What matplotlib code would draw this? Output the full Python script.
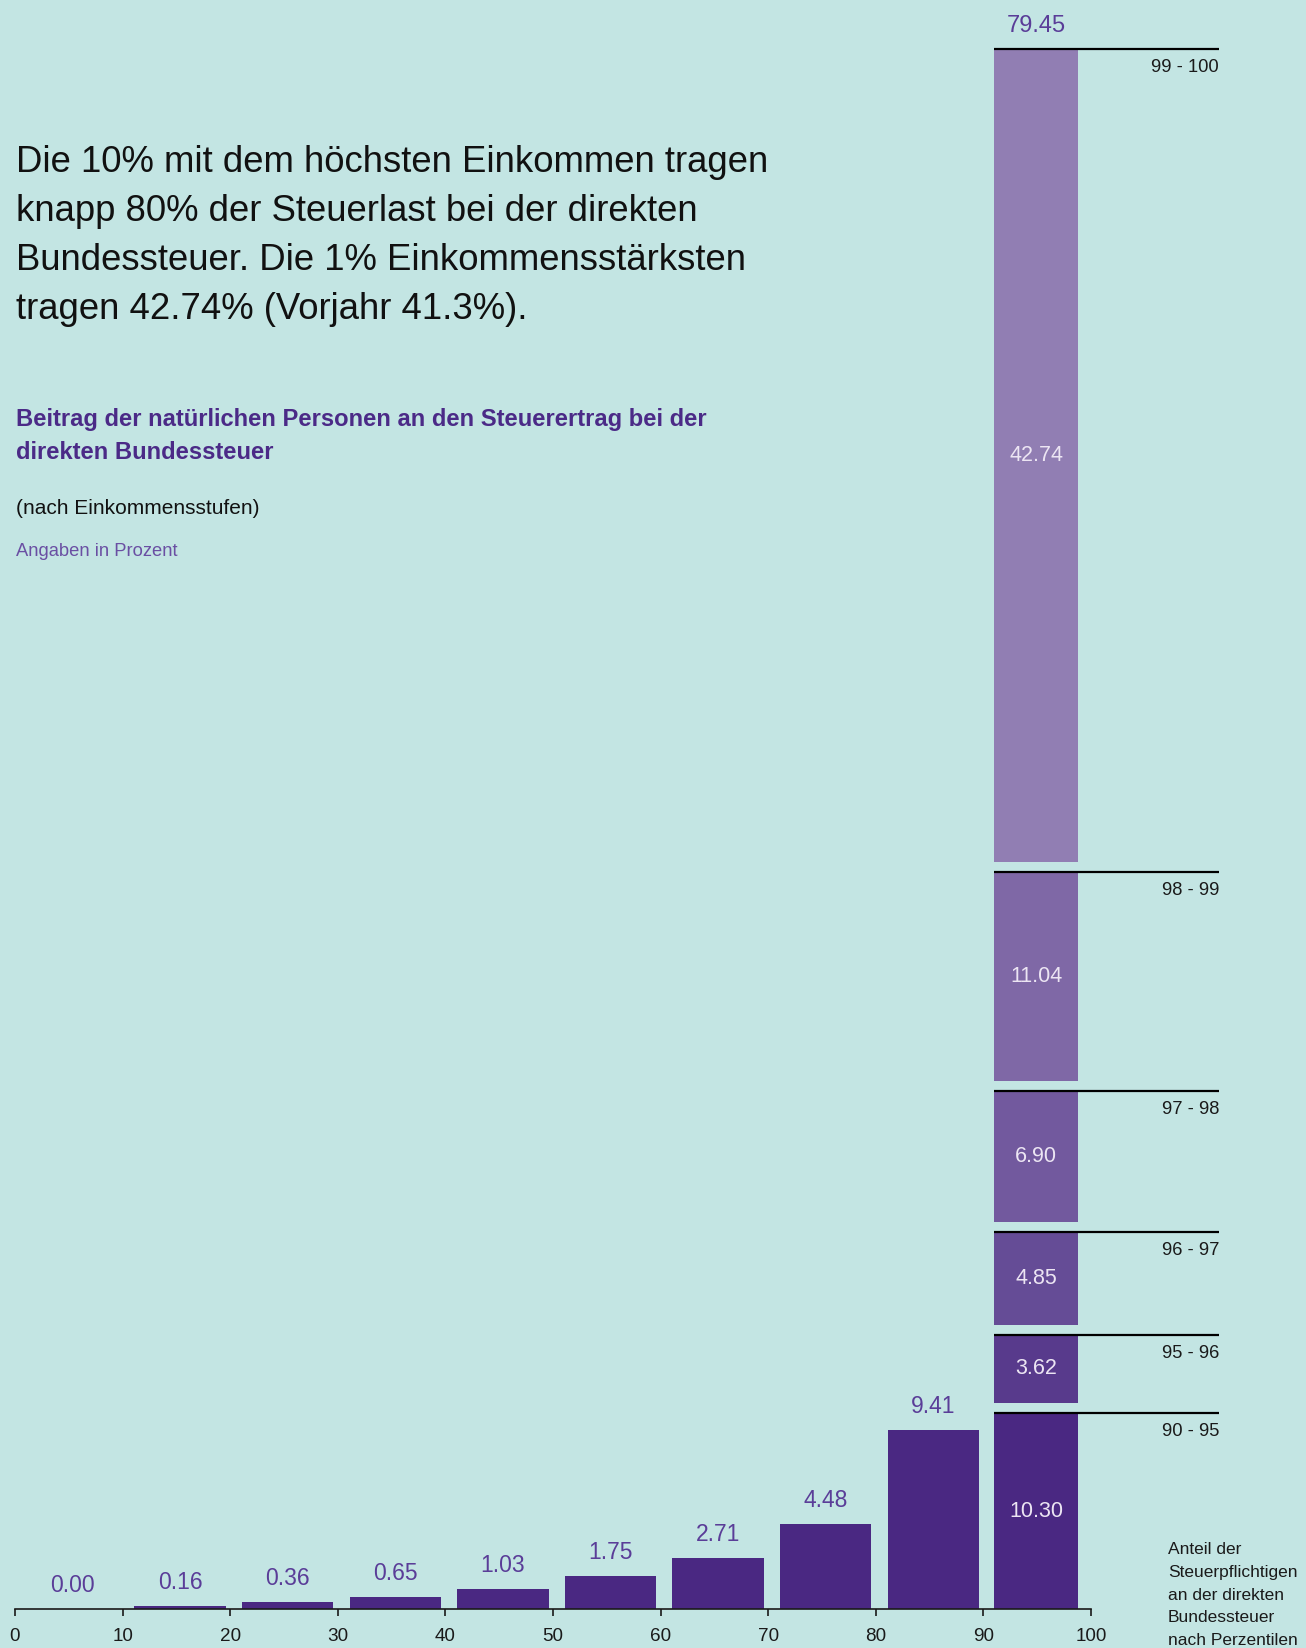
import matplotlib.pyplot as plt
import numpy as np

plt.rcParams['font.family'] = ['Liberation Sans', 'DejaVu Sans']

# Steuerertrag nach Einkommensdezilen (0-90) und Perzentilen (90-100)
decile_starts = [0, 10, 20, 30, 40, 50, 60, 70, 80]
decile_shares = [0.00, 0.16, 0.36, 0.65, 1.03, 1.75, 2.71, 4.48, 9.41]
top_groups = ['90 - 95', '95 - 96', '96 - 97', '97 - 98', '98 - 99', '99 - 100']
top_shares = [10.30, 3.62, 4.85, 6.90, 11.04, 42.74]
xticks = [0, 10, 20, 30, 40, 50, 60, 70, 80, 90, 100]

headline = ['Die 10% mit dem höchsten Einkommen tragen',
            'knapp 80% der Steuerlast bei der direkten',
            'Bundessteuer. Die 1% Einkommensstärksten',
            'tragen 42.74% (Vorjahr 41.3%).']
subtitle = ['Beitrag der natürlichen Personen an den Steuerertrag bei der',
            'direkten Bundessteuer']
axis_note = ['Anteil der', 'Steuerpflichtigen', 'an der direkten',
             'Bundessteuer', 'nach Perzentilen']

bg = '#c3e5e3'
bar_color = '#4a2882'
top_colors = ['#4a2882', '#583a8c', '#654c96', '#72599e', '#7f68a6', '#917eb3']
label_purple = '#5a3d98'

W, H, DPI = 1306, 1648, 100
fig = plt.figure(figsize=(W / DPI, H / DPI), dpi=DPI, facecolor=bg)

def fx(px):
    return px / W

def fy(py):
    return 1 - py / H

x0, x1 = 15, 1091      # pixel positions of 0 and 100
y0 = 1609              # baseline pixel
px_per_unit = 19.0
ax = fig.add_axes([fx(x0), fy(y0), (x1 - x0) / W, y0 / H])
ax.set_facecolor('none')
ax.set_xlim(0, 100)
ax.set_ylim(0, y0 / px_per_unit)

bar_off, bar_w = 1.1, 8.5
offset = 17 * 72 / DPI
ax.bar(np.array(decile_starts) + bar_off, decile_shares, width=bar_w, align='edge',
       color=bar_color, linewidth=0)
for s, v in zip(decile_starts, decile_shares):
    ax.annotate(f'{v:.2f}', (s + bar_off + bar_w / 2, v), xytext=(0, offset),
                textcoords='offset points', ha='center', va='baseline',
                fontsize=16.5, color=label_purple)

# oberstes Dezil gestapelt, mit kleinen Luecken zwischen den Perzentilgruppen
gap = 10 / px_per_unit
stack_left, stack_w = 91.0, 7.8
stack_mid = stack_left + stack_w / 2
line_end = 111.9
base = 0
for grp, v, c in zip(top_groups, top_shares, top_colors):
    ax.bar(stack_left, v, width=stack_w, bottom=base, align='edge', color=c, linewidth=0)
    top = base + v
    ax.plot([stack_left, line_end], [top, top], color='black', lw=1.6,
            solid_capstyle='butt', clip_on=False)
    ax.annotate(grp, (line_end, top), xytext=(0, -23 * 72 / DPI),
                textcoords='offset points', ha='right', va='baseline',
                fontsize=13.2, color='#1a1a1a', annotation_clip=False)
    ax.text(stack_mid, base + v / 2, f'{v:.2f}', ha='center', va='center',
            fontsize=15.5, color='#ece5f3')
    base = top + gap
ax.annotate(f'{sum(top_shares):.2f}', (stack_mid, top), xytext=(0, offset),
            textcoords='offset points', ha='center', va='baseline',
            fontsize=17, color=label_purple)

for side in ['top', 'right', 'left']:
    ax.spines[side].set_visible(False)
ax.spines['bottom'].set_bounds(0, 100)
ax.spines['bottom'].set_linewidth(1.2)
ax.spines['bottom'].set_color('#1a1a1a')
ax.set_yticks([])
ax.set_xticks(xticks)
ax.tick_params(axis='x', direction='out', length=5, width=1.2, color='#1a1a1a',
               pad=9, labelsize=13.6, labelcolor='#1a1a1a')

# Texte
for i, line in enumerate(headline):
    fig.text(fx(16), fy(172 + i * 49), line, fontsize=26.3, color='#111111',
             ha='left', va='baseline')
for i, line in enumerate(subtitle):
    fig.text(fx(16), fy(426 + i * 33), line, fontsize=17.1, fontweight='bold',
             color='#4b2a87', ha='left', va='baseline')
fig.text(fx(16), fy(514), '(nach Einkommensstufen)', fontsize=15.0,
         color='#111111', ha='left', va='baseline')
fig.text(fx(16), fy(556), 'Angaben in Prozent', fontsize=13.2,
         color='#6a4fa3', ha='left', va='baseline')
for i, line in enumerate(axis_note):
    fig.text(fx(1168), fy(1554 + i * 22.8), line, fontsize=12.5,
             color='#1a1a1a', ha='left', va='baseline')

fig.savefig('out.png', dpi=DPI, facecolor=bg)
